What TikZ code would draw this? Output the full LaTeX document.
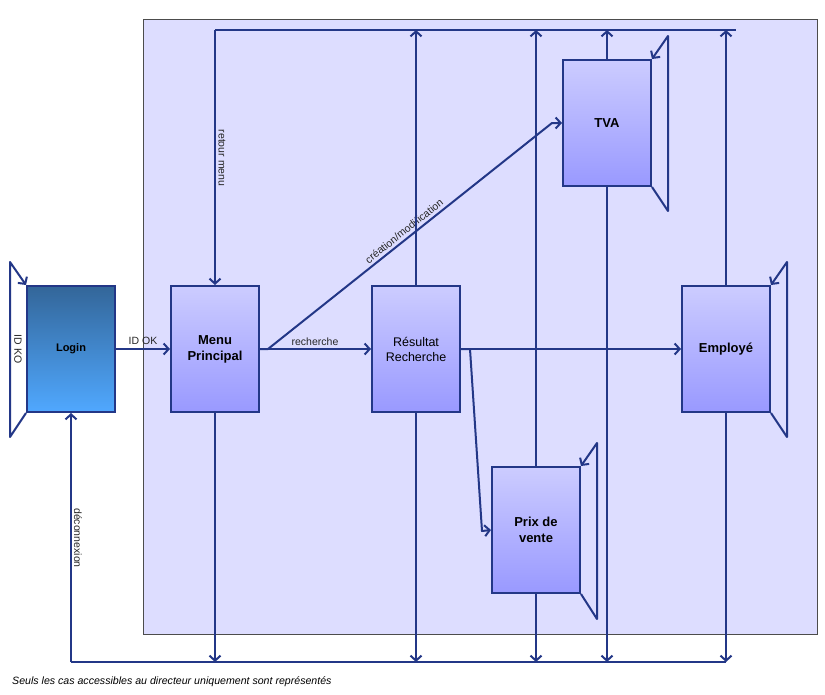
\documentclass[tikz,border=0pt]{standalone}
\usepackage{fontspec}
\setmainfont{Liberation Sans}
\usetikzlibrary{arrows.meta}
\definecolor{conn}{RGB}{35,55,135}
\definecolor{panel}{RGB}{221,221,255}
\definecolor{bluetop}{RGB}{51,102,153}
\definecolor{bluebot}{RGB}{80,168,255}
\definecolor{lavtop}{RGB}{204,204,255}
\definecolor{lavbot}{RGB}{153,153,255}
\begin{document}
\begin{tikzpicture}[x=1pt,y=-1pt,
  box/.style={draw=conn,line width=2pt,minimum width=88pt,minimum height=126pt,inner sep=0pt,
    top color=lavtop,bottom color=lavbot,align=center,text=black},
  bbold/.style={font=\fontsize{13}{16}\selectfont\bfseries},
  breg/.style={font=\fontsize{12.5}{15}\selectfont},
  conn/.style={draw=conn,line width=2pt,line join=round},
  arr/.style={conn,-{Straight Barb[length=5pt,width=11pt,line width=2pt]}},
  lbl/.style={font=\fontsize{10.5}{12}\selectfont,text=black!85,inner sep=0pt}]
\useasboundingbox (0,0) rectangle (825,694);
\fill[white] (0,0) rectangle (825,694);
% panel
\draw[fill=panel,draw=black!70,line width=1pt] (143,19) rectangle (817,634);

% nodes
\node[box,top color=bluetop,bottom color=bluebot,font=\fontsize{11}{13}\selectfont\bfseries] (login) at (71,349) {Login};
\node[box,bbold] (menu) at (215,349) {Menu\\Principal};
\node[box,breg] (res) at (416,349) {Résultat\\Recherche};
\node[box,bbold] (tva) at (607,123) {TVA};
\node[box,bbold] (emp) at (726,349) {Employé};
\node[box,bbold] (prix) at (536,530) {Prix de\\vente};

% bus coordinates
\coordinate (tl) at (215,30);
\coordinate (tr) at (736,30);
\coordinate (bl) at (71,662);
\coordinate (br) at (726,662);

% self loops
\coordinate (la) at (10,437); \coordinate (lb) at (10,262);
\draw[arr] (login.south west) -- (la) -- (lb) -- (login.north west);
\node[lbl,rotate=-90] (idko) at (18,349) {ID KO};

\coordinate (ta) at (668,211); \coordinate (tb) at (668,36);
\draw[arr] (tva.south east) -- (ta) -- (tb) -- (tva.north east);

\coordinate (ea) at (787,437); \coordinate (eb) at (787,262);
\draw[arr] (emp.south east) -- (ea) -- (eb) -- (emp.north east);

\coordinate (pa) at (597,619); \coordinate (pb) at (597,443);
\draw[arr] (prix.south east) -- (pa) -- (pb) -- (prix.north east);

% login -> menu
\draw[arr] (login.east) -- (menu.west);
\node[lbl] (idok) at (143,341) {ID OK};

% menu -> res
\draw[arr] (menu.east) -- (res.west);
\node[lbl] (rech) at (315,342) {recherche};

% menu -> tva
\coordinate (m1) at (268,349);
\coordinate (m2) at (552,123);
\draw[arr] (menu.east) -- (m1) -- (m2) -- (tva.west);
\node[lbl,rotate=38.6] (crea) at (404,231) {création/modification};

% res -> emp
\draw[arr] (res.east) -- (emp.west);

% res -> prix
\coordinate (r1) at (470,349);
\coordinate (r2) at (482,531);
\draw[arr] (res.east) -- (r1) -- (r2) -- (prix.west);

% top bus (retour menu)
\draw[conn] (tl) -- (tr);
\draw[arr] (tl) -- (menu.north);
\node[lbl,rotate=-90] (retour) at (222,158) {retour menu};
\draw[arr] (res.north) -- (res.north |- tl);
\draw[arr] (prix.north) -- (prix.north |- tl);
\draw[arr] (tva.north) -- (tva.north |- tl);
\draw[arr] (emp.north) -- (emp.north |- tl);

% bottom bus (deconnexion)
\draw[conn] (bl) -- (br);
\draw[arr] (bl) -- (login.south);
\node[lbl,rotate=-90] (deco) at (78,538) {déconnexion};
\draw[arr] (menu.south) -- (menu.south |- bl);
\draw[arr] (res.south) -- (res.south |- bl);
\draw[arr] (prix.south) -- (prix.south |- bl);
\draw[arr] (tva.south) -- (tva.south |- bl);
\draw[arr] (emp.south) -- (emp.south |- bl);

% footnote
\node[anchor=west,inner sep=0pt,font=\fontsize{10.6}{12}\selectfont\itshape] (note) at (12,682) {Seuls les cas accessibles au directeur uniquement sont représentés};
\end{tikzpicture}
\end{document}
